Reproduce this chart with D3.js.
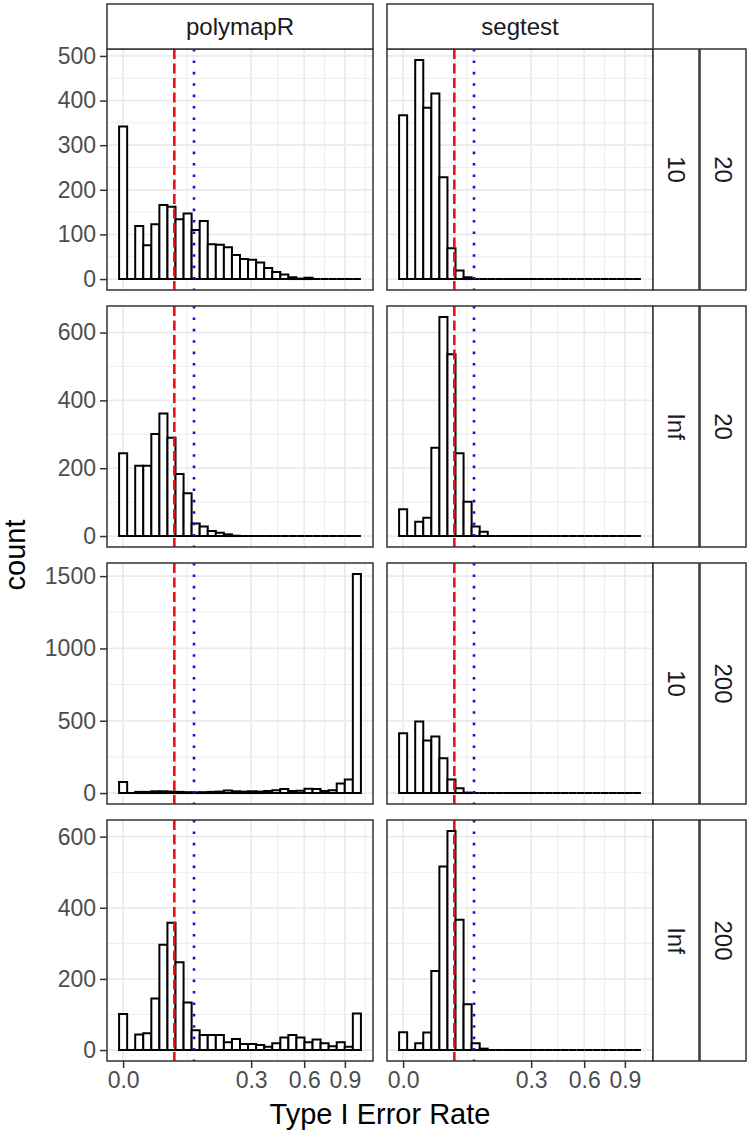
<!DOCTYPE html>
<html>
<head>
<meta charset="utf-8">
<script src="https://cdn.jsdelivr.net/npm/d3@7"></script>
<style>
  body { margin: 0; background: #fff; }
  text { font-family: "Liberation Sans", Arial, Helvetica, sans-serif; }
</style>
</head>
<body>
<div id="chart"></div>
<script>
// facets
const methods = ["polymapR", "segtest"];
const innerLabels = ["10", "Inf", "10", "Inf"];
const outerLabels = ["20", "20", "200", "200"];

// histogram counts, 30 bins on sqrt(Type I error rate) in [0, 1]
const polymapR_10_20 = [342, 0, 119, 76, 123, 166, 162, 134, 147, 110, 130, 78, 77, 71, 54, 45, 43, 37, 25, 16, 10, 4, 1, 3, 0, 0, 0, 0, 0, 0];
const segtest_10_20 = [367, 0, 491, 384, 416, 228, 69, 19, 4, 0, 0, 0, 0, 0, 0, 0, 0, 0, 0, 0, 0, 0, 0, 0, 0, 0, 0, 0, 0, 0];
const polymapR_Inf_20 = [244, 0, 207, 207, 301, 361, 290, 183, 126, 37, 28, 15, 10, 5, 1, 0, 0, 0, 0, 0, 0, 0, 0, 0, 0, 0, 0, 0, 0, 0];
const segtest_Inf_20 = [79, 0, 42, 54, 260, 646, 536, 244, 101, 28, 13, 0, 0, 0, 0, 0, 0, 0, 0, 0, 0, 0, 0, 0, 0, 0, 0, 0, 0, 0];
const polymapR_10_200 = [76, 0, 8, 8, 12, 12, 10, 8, 6, 5, 6, 8, 10, 18, 12, 10, 12, 10, 14, 20, 28, 14, 16, 30, 28, 15, 20, 66, 94, 1515];
const segtest_10_200 = [414, 0, 494, 363, 391, 241, 94, 34, 3, 0, 0, 0, 0, 0, 0, 0, 0, 0, 0, 0, 0, 0, 0, 0, 0, 0, 0, 0, 0, 0];
const polymapR_Inf_200 = [101, 0, 44, 47, 145, 296, 358, 247, 134, 56, 42, 42, 42, 22, 31, 17, 17, 14, 9, 19, 35, 42, 35, 22, 30, 19, 11, 22, 9, 103];
const segtest_Inf_200 = [50, 0, 19, 49, 222, 516, 616, 366, 129, 19, 4, 0, 0, 0, 0, 0, 0, 0, 0, 0, 0, 0, 0, 0, 0, 0, 0, 0, 0, 0];

const panelCounts = [
  [polymapR_10_20, segtest_10_20],
  [polymapR_Inf_20, segtest_Inf_20],
  [polymapR_10_200, segtest_10_200],
  [polymapR_Inf_200, segtest_Inf_200]
];

// axes
const xTickValues = [0, 0.3, 0.6, 0.9];
const xTickLabels = ["0.0", "0.3", "0.6", "0.9"];
const yTicksByRow = [
  [0, 100, 200, 300, 400, 500],
  [0, 200, 400, 600],
  [0, 500, 1000, 1500],
  [0, 200, 400, 600]
];

// reference lines
const redLine = 0.048;
const blueLine = 0.092;

const width = 750, height = 1136;
const panelX = [107, 387], panelW = 266;
const panelY = [49, 306, 563, 820], panelH = 241;
const stripTop = 4, stripH = 45, stripW = 46;
const nBins = 30;
const binW = 1 / (nBins - 1);
const tickFont = '23px', stripFont = '24px', titleFont = '29px';

const svg = d3.select('#chart').append('svg')
    .attr('width', width)
    .attr('height', height);

// x in sqrt space, ggplot style expansion
const lo = -binW / 2, hi = 1 + binW / 2;
const pad = (hi - lo) * 0.05;
const xScales = panelX.map(px => d3.scaleLinear().domain([lo - pad, hi + pad]).range([px, px + panelW]));

function minorBreaks(br, dom) {
  const ext = [br[0] - (br[1] - br[0])].concat(br, [br[br.length - 1] + (br[br.length - 1] - br[br.length - 2])]);
  const out = [];
  for (let i = 0; i < ext.length - 1; i++) {
    const m = (ext[i] + ext[i + 1]) / 2;
    if (m > dom[0] && m < dom[1]) out.push(m);
  }
  return out;
}

const xMajor = xTickValues.map(v => Math.sqrt(v));
const xMinor = minorBreaks(xMajor, xScales[0].domain());

panelY.forEach((py, r) => {
  const maxC = d3.max(panelCounts[r], c => d3.max(c));
  const y = d3.scaleLinear().domain([-0.05 * maxC, 1.05 * maxC]).range([py + panelH, py]);
  const yMinor = minorBreaks(yTicksByRow[r], y.domain());

  panelX.forEach((px, c) => {
    const x = xScales[c];
    const g = svg.append('g');

    g.append('rect')
      .attr('x', px).attr('y', py).attr('width', panelW).attr('height', panelH)
      .attr('fill', '#fff');

    // grid
    g.selectAll('.vminor').data(xMinor).enter().append('line')
      .attr('x1', d => x(d)).attr('x2', d => x(d))
      .attr('y1', py).attr('y2', py + panelH)
      .attr('stroke', '#ebebeb').attr('stroke-width', 0.9);
    g.selectAll('.hminor').data(yMinor).enter().append('line')
      .attr('x1', px).attr('x2', px + panelW)
      .attr('y1', d => y(d)).attr('y2', d => y(d))
      .attr('stroke', '#ebebeb').attr('stroke-width', 0.9);
    g.selectAll('.vmajor').data(xMajor).enter().append('line')
      .attr('x1', d => x(d)).attr('x2', d => x(d))
      .attr('y1', py).attr('y2', py + panelH)
      .attr('stroke', '#ebebeb').attr('stroke-width', 1.8);
    g.selectAll('.hmajor').data(yTicksByRow[r]).enter().append('line')
      .attr('x1', px).attr('x2', px + panelW)
      .attr('y1', d => y(d)).attr('y2', d => y(d))
      .attr('stroke', '#ebebeb').attr('stroke-width', 1.8);

    // bars (paths so empty bins still draw a baseline)
    g.selectAll('.bar').data(panelCounts[r][c]).enter().append('path')
      .attr('d', (d, i) => {
        const x0 = x(i * binW - binW / 2), x1 = x(i * binW + binW / 2);
        return `M${x0},${y(0)}V${y(d)}H${x1}V${y(0)}Z`;
      })
      .attr('fill', '#fff')
      .attr('stroke', '#000')
      .attr('stroke-width', 2)
      .attr('stroke-linejoin', 'miter');

    // reference lines
    g.append('line')
      .attr('x1', x(Math.sqrt(redLine))).attr('x2', x(Math.sqrt(redLine)))
      .attr('y1', py).attr('y2', py + panelH)
      .attr('stroke', '#ee1111').attr('stroke-width', 2.6)
      .attr('stroke-dasharray', '10,4.5');
    g.append('line')
      .attr('x1', x(Math.sqrt(blueLine))).attr('x2', x(Math.sqrt(blueLine)))
      .attr('y1', py).attr('y2', py + panelH)
      .attr('stroke', '#1010dd').attr('stroke-width', 2.6)
      .attr('stroke-dasharray', '2.6,8.8');

    g.append('rect')
      .attr('x', px).attr('y', py).attr('width', panelW).attr('height', panelH)
      .attr('fill', 'none').attr('stroke', '#333').attr('stroke-width', 1.5);

    // y axis on left column
    if (c === 0) {
      svg.append('g')
        .attr('transform', `translate(${px},0)`)
        .call(d3.axisLeft(y).tickValues(yTicksByRow[r]).tickFormat(d3.format('d')).tickSize(7).tickPadding(4))
        .call(a => a.select('.domain').remove())
        .call(a => a.selectAll('line').attr('stroke', '#333').attr('stroke-width', 1.5))
        .call(a => a.selectAll('text').attr('fill', '#4d4d4d').style('font-size', tickFont));
    }
    // x axis on bottom row
    if (r === panelY.length - 1) {
      svg.append('g')
        .attr('transform', `translate(0,${py + panelH})`)
        .call(d3.axisBottom(x).tickValues(xMajor).tickFormat((d, i) => xTickLabels[i]).tickSize(7).tickPadding(4))
        .call(a => a.select('.domain').remove())
        .call(a => a.selectAll('line').attr('stroke', '#333').attr('stroke-width', 1.5))
        .call(a => a.selectAll('text').attr('fill', '#4d4d4d').style('font-size', tickFont));
    }
  });

  // right strips
  [innerLabels[r], outerLabels[r]].forEach((lab, k) => {
    const sx = panelX[1] + panelW + k * (stripW + 1);
    svg.append('rect')
      .attr('x', sx).attr('y', py).attr('width', stripW).attr('height', panelH)
      .attr('fill', '#fff').attr('stroke', '#333').attr('stroke-width', 1.5);
    svg.append('text')
      .attr('transform', `translate(${sx + stripW / 2},${py + panelH / 2}) rotate(90)`)
      .attr('text-anchor', 'middle')
      .attr('dy', '0.35em')
      .attr('fill', '#1a1a1a')
      .style('font-size', stripFont)
      .text(lab);
  });
});

// top strips
panelX.forEach((px, c) => {
  svg.append('rect')
    .attr('x', px).attr('y', stripTop).attr('width', panelW).attr('height', stripH)
    .attr('fill', '#fff').attr('stroke', '#333').attr('stroke-width', 1.5);
  svg.append('text')
    .attr('x', px + panelW / 2).attr('y', stripTop + stripH / 2)
    .attr('dy', '0.35em')
    .attr('text-anchor', 'middle')
    .attr('fill', '#1a1a1a')
    .style('font-size', stripFont)
    .text(methods[c]);
});

// axis titles
svg.append('text')
  .attr('x', (panelX[0] + panelX[1] + panelW) / 2)
  .attr('y', 1124)
  .attr('text-anchor', 'middle')
  .style('font-size', titleFont)
  .text('Type I Error Rate');

svg.append('text')
  .attr('transform', `translate(25,${(panelY[0] + panelY[3] + panelH) / 2}) rotate(-90)`)
  .attr('text-anchor', 'middle')
  .style('font-size', titleFont)
  .text('count');
</script>
</body>
</html>
